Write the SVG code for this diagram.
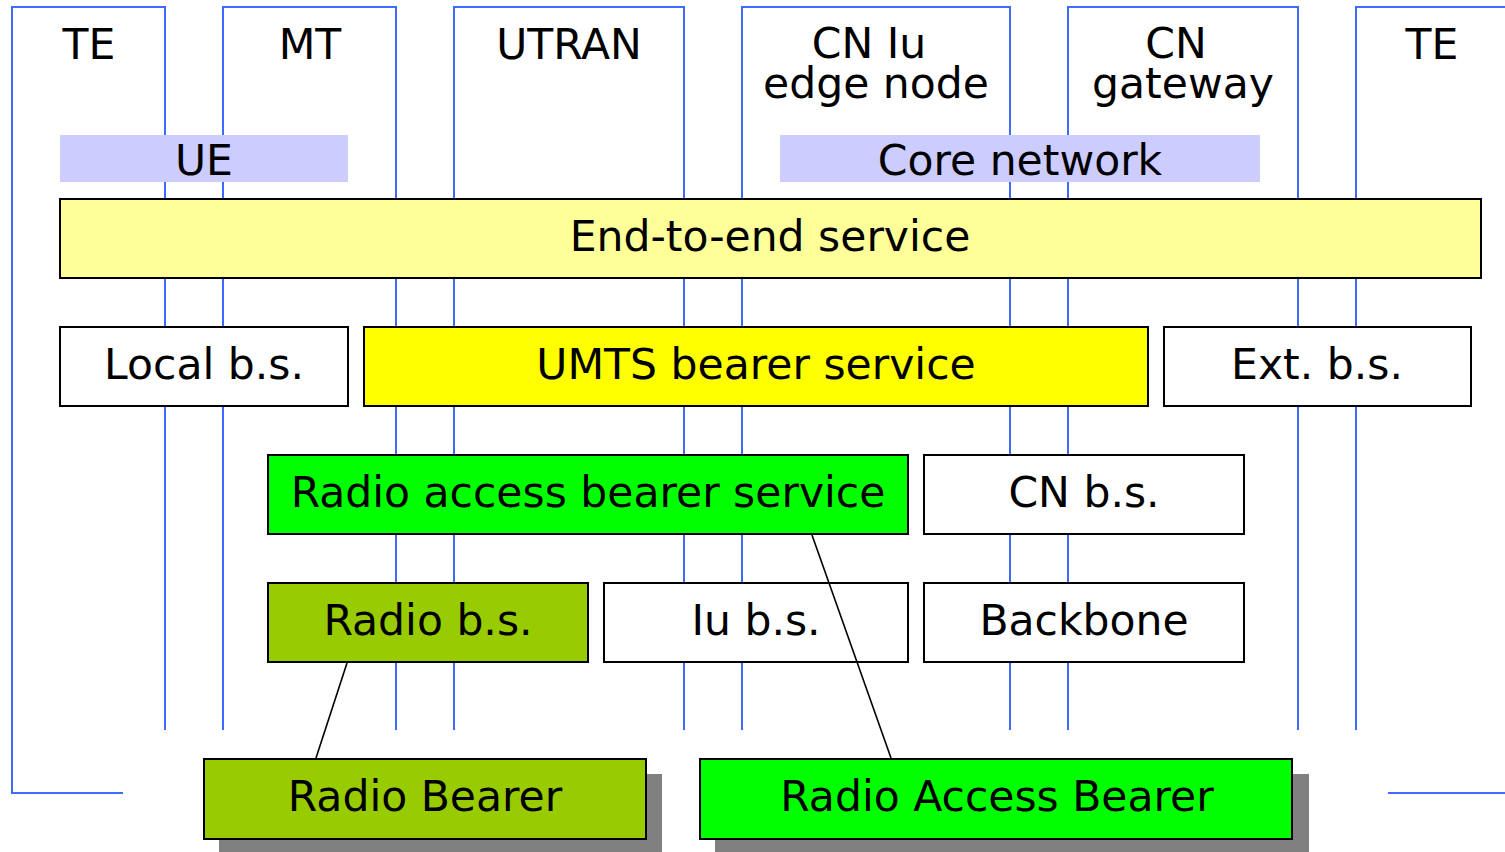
<svg xmlns="http://www.w3.org/2000/svg" width="1505" height="852" viewBox="0 0 1505 852">
  <style>
    .col { fill: none; stroke: #3d6bff; stroke-width: 2; }
    .box { stroke: #000; stroke-width: 2; }
    .lbl { fill: #ccccff; }
    .shadow { fill: #808080; }
    text { font-family: "DejaVu Sans", Verdana, sans-serif; font-size: 42.5px; fill: #000; text-anchor: middle; }
    .link { stroke: #000; stroke-width: 1.6; fill: none; }
  </style>
  <rect width="1505" height="852" fill="#fff"/>

  <!-- equipment columns -->
  <g id="col-te-left">
    <path class="col" d="M123,793 H12 V7 H165 V730"/>
    <text x="89" y="59">TE</text>
  </g>
  <g id="col-mt">
    <path class="col" d="M223,730 V7 H396 V730"/>
    <text x="310" y="59">MT</text>
  </g>
  <g id="col-utran">
    <path class="col" d="M454,730 V7 H684 V730"/>
    <text x="569" y="59">UTRAN</text>
  </g>
  <g id="col-cn-iu">
    <path class="col" d="M742,730 V7 H1010 V730"/>
    <text x="869" y="58">CN Iu</text>
    <text x="876" y="98">edge node</text>
  </g>
  <g id="col-cn-gw">
    <path class="col" d="M1068,730 V7 H1298 V730"/>
    <text x="1176" y="58">CN</text>
    <text x="1183" y="98">gateway</text>
  </g>
  <g id="col-te-right">
    <path class="col" d="M1356,730 V7 H1520 M1520,793 H1388"/>
    <text x="1432" y="59">TE</text>
  </g>

  <!-- domain labels -->
  <g id="ue">
    <rect class="lbl" x="60" y="135" width="288" height="47"/>
    <text x="204" y="175">UE</text>
  </g>
  <g id="core-network">
    <rect class="lbl" x="780" y="135" width="480" height="47"/>
    <text x="1020" y="175">Core network</text>
  </g>

  <!-- bearer services -->
  <g id="end-to-end">
    <rect class="box" x="60" y="199" width="1421" height="79" fill="#ffff99"/>
    <text x="770" y="251">End-to-end service</text>
  </g>
  <g id="local-bs">
    <rect class="box" x="60" y="327" width="288" height="79" fill="#fff"/>
    <text x="204" y="379">Local b.s.</text>
  </g>
  <g id="umts-bs">
    <rect class="box" x="364" y="327" width="784" height="79" fill="#ffff00"/>
    <text x="756" y="379">UMTS bearer service</text>
  </g>
  <g id="ext-bs">
    <rect class="box" x="1164" y="327" width="307" height="79" fill="#fff"/>
    <text x="1317" y="379">Ext. b.s.</text>
  </g>
  <g id="rab-service">
    <rect class="box" x="268" y="455" width="640" height="79" fill="#00ff00"/>
    <text x="588" y="507">Radio access bearer service</text>
  </g>
  <g id="cn-bs">
    <rect class="box" x="924" y="455" width="320" height="79" fill="#fff"/>
    <text x="1084" y="507">CN b.s.</text>
  </g>
  <g id="radio-bs">
    <rect class="box" x="268" y="583" width="320" height="79" fill="#99cc00"/>
    <text x="428" y="635">Radio b.s.</text>
  </g>
  <g id="iu-bs">
    <rect class="box" x="604" y="583" width="304" height="79" fill="#fff"/>
    <text x="756" y="635">Iu b.s.</text>
  </g>
  <g id="backbone">
    <rect class="box" x="924" y="583" width="320" height="79" fill="#fff"/>
    <text x="1084" y="635">Backbone</text>
  </g>

  <!-- bearers -->
  <g id="radio-bearer">
    <rect class="shadow" x="219" y="774" width="443" height="80"/>
    <rect class="box" x="204" y="759" width="442" height="80" fill="#99cc00"/>
    <text x="425" y="811">Radio Bearer</text>
  </g>
  <g id="radio-access-bearer">
    <rect class="shadow" x="715" y="774" width="594" height="80"/>
    <rect class="box" x="700" y="759" width="592" height="80" fill="#00ff00"/>
    <text x="997" y="811">Radio Access Bearer</text>
  </g>

  <!-- connectors -->
  <g id="connectors">
    <line class="link" x1="347" y1="663" x2="316" y2="758"/>
    <line class="link" x1="812" y1="535" x2="891" y2="758"/>
  </g>
</svg>
